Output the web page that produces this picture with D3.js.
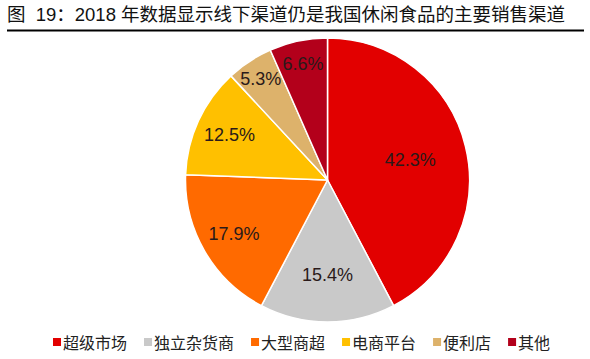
<!DOCTYPE html>
<html>
<head>
<meta charset="utf-8">
<script src="https://cdn.jsdelivr.net/npm/d3@7"></script>
<style>
  html, body { margin: 0; padding: 0; background: #fff; }
  svg { display: block; }
</style>
</head>
<body>
<svg id="chart" width="590" height="359"></svg>
<script>
// ---- data ----
const title = "图  19：2018 年数据显示线下渠道仍是我国休闲食品的主要销售渠道";
const categories = ["超级市场", "独立杂货商", "大型商超", "电商平台", "便利店", "其他"];
const values = [42.3, 15.4, 17.9, 12.5, 5.3, 6.6];
const colors = ["#E20000", "#C9C9C9", "#FF6A00", "#FFC000", "#DDB26B", "#B3001B"];

// ---- layout ----
const W = 590, H = 359;
const cx = 327.5, cy = 180, R = 142;
const labelRadiusFactor = [0.60, 0.67, 0.76, 0.76, 0.855, 0.835];
const latin = "'Liberation Sans', Arial, 'Noto Sans CJK SC', sans-serif";
const cjk = "'Noto Sans CJK SC', 'Liberation Sans', sans-serif";

const svg = d3.select("#chart");

// title
svg.append("text")
  .attr("x", 7).attr("y", 21)
  .attr("font-family", latin)
  .attr("font-size", 18.5)
  .attr("fill", "#111")
  .attr("xml:space", "preserve")
  .attr("textLength", 558)
  .attr("lengthAdjust", "spacing")
  .style("white-space", "pre")
  .text(title);
svg.append("line")
  .attr("x1", 7).attr("x2", 584)
  .attr("y1", 30.5).attr("y2", 30.5)
  .attr("stroke", "#000").attr("stroke-width", 2);

// pie
const data = categories.map((c, i) => ({ name: c, value: values[i], color: colors[i], idx: i }));
const pie = d3.pie().value(d => d.value).sort(null);
const arcs = pie(data);
const arc = d3.arc().innerRadius(0).outerRadius(R);

const g = svg.append("g").attr("transform", `translate(${cx},${cy})`);
g.selectAll("path.slice")
  .data(arcs)
  .join("path")
  .attr("class", "slice")
  .attr("d", arc)
  .attr("fill", d => d.data.color)
  .attr("stroke", "#fff")
  .attr("stroke-width", 1.5)
  .attr("stroke-linejoin", "round");

g.selectAll("text.lbl")
  .data(arcs)
  .join("text")
  .attr("class", "lbl")
  .attr("transform", d => {
    const r = R * labelRadiusFactor[d.data.idx];
    const a = (d.startAngle + d.endAngle) / 2;
    return `translate(${r * Math.sin(a)},${-r * Math.cos(a)})`;
  })
  .attr("text-anchor", "middle")
  .attr("dominant-baseline", "central")
  .attr("font-family", latin)
  .attr("font-size", 18)
  .attr("fill", "#2a1a1a")
  .text(d => d.data.value.toFixed(1) + "%");

// legend
const legend = svg.append("g").attr("class", "legend");
let x = 53;
const ly = 342;
data.forEach(d => {
  legend.append("rect")
    .attr("x", x).attr("y", ly - 4)
    .attr("width", 8).attr("height", 8)
    .attr("fill", d.color);
  const t = legend.append("text")
    .attr("x", x + 10).attr("y", ly)
    .attr("dominant-baseline", "central")
    .attr("font-family", cjk)
    .attr("font-size", 16)
    .attr("fill", "#222")
    .text(d.name);
  x += 10 + t.node().getComputedTextLength() + 17;
});
</script>
</body>
</html>
